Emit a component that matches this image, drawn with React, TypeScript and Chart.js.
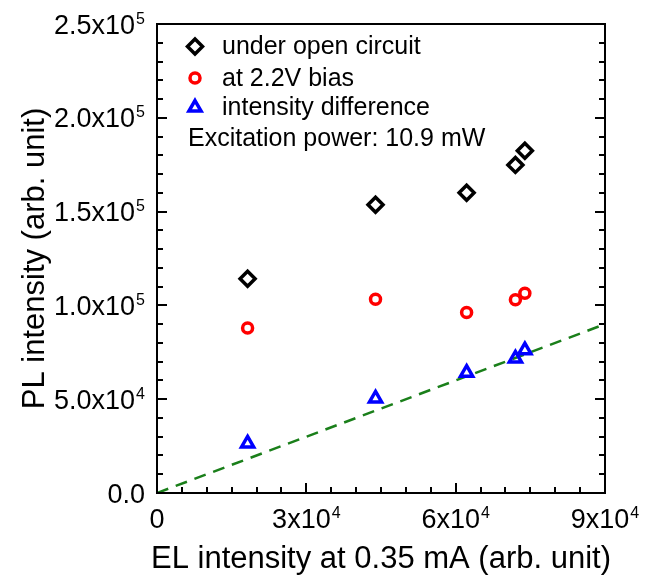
import React, { useEffect, useRef } from 'react';
import { Chart, registerables } from 'chart.js';

Chart.register(...registerables);

// ---- data ----
const elIntensity = [18200, 43900, 62200, 72000, 73900];
const plOpenCircuit = [114200, 153600, 160100, 174900, 182400];
const plBias = [87900, 103300, 96200, 103000, 106500];
const plDifference = [26400, 50400, 64100, 71700, 76100];
const fitX = [0, 90000];
const fitY = [0, 90000];

const seriesLabels = ['under open circuit', 'at 2.2V bias', 'intensity difference'];
const noteText = 'Excitation power: 10.9 mW';
const xTitle = 'EL intensity at 0.35 mA (arb. unit)';
const yTitle = 'PL intensity (arb. unit)';

const xTickValues = [0, 30000, 60000, 90000];
const xTickMain = ['0', '3x10', '6x10', '9x10'];
const xTickExp = ['', '4', '4', '4'];
const yTickValues = [0, 50000, 100000, 150000, 200000, 250000];
const yTickMain = ['0.0', '5.0x10', '1.0x10', '1.5x10', '2.0x10', '2.5x10'];
const yTickExp = ['', '4', '5', '5', '5', '5'];

const X_MIN = 0, X_MAX = 90000, X_MINOR = 5000;
const Y_MIN = 0, Y_MAX = 250000, Y_MINOR = 10000;

const FONT = '"Liberation Sans", Arial, Helvetica, sans-serif';
const MARK_W = 3.5;

function shapePath(ctx: CanvasRenderingContext2D, kind: string, x: number, y: number, r: number) {
  ctx.beginPath();
  if (kind === 'diamond') {
    ctx.moveTo(x - r, y);
    ctx.lineTo(x, y - r);
    ctx.lineTo(x + r, y);
    ctx.lineTo(x, y + r);
    ctx.closePath();
  } else if (kind === 'circle') {
    ctx.arc(x, y, r, 0, Math.PI * 2);
    ctx.closePath();
  } else {
    const s = Math.sin((2 * Math.PI) / 3) * r;
    ctx.moveTo(x, y - r);
    ctx.lineTo(x + s, y + r / 2);
    ctx.lineTo(x - s, y + r / 2);
    ctx.closePath();
  }
}

const framePlugin = {
  id: 'frameAndText',
  afterDatasetsDraw(chart: any) {
    const { ctx, chartArea: a, scales } = chart;
    const xs = scales.x;
    const ys = scales.y;
    ctx.save();

    // frame
    ctx.strokeStyle = '#000';
    ctx.lineWidth = 2;
    ctx.strokeRect(a.left, a.top, a.right - a.left, a.bottom - a.top);

    // ticks (inward)
    ctx.lineWidth = 2;
    ctx.beginPath();
    for (let v = Y_MIN; v <= Y_MAX + 1; v += Y_MINOR) {
      const py = Math.round(ys.getPixelForValue(v));
      const major = yTickValues.includes(v);
      const len = major ? 10 : 6;
      ctx.moveTo(a.left, py);
      ctx.lineTo(a.left + len, py);
      ctx.moveTo(a.right, py);
      ctx.lineTo(a.right - len, py);
    }
    for (let v = X_MIN; v <= X_MAX + 1; v += X_MINOR) {
      const px = Math.round(xs.getPixelForValue(v));
      const major = xTickValues.includes(v);
      const len = major ? 10 : 6;
      ctx.moveTo(px, a.bottom);
      ctx.lineTo(px, a.bottom - len);
    }
    ctx.stroke();

    // tick labels
    ctx.fillStyle = '#000';
    ctx.textBaseline = 'alphabetic';
    const mainFont = `27px ${FONT}`;
    const expFont = `16px ${FONT}`;
    yTickValues.forEach((v, i) => {
      const py = ys.getPixelForValue(v);
      const right = a.left - 12;
      ctx.font = expFont;
      const ew = yTickExp[i] ? ctx.measureText(yTickExp[i]).width : 0;
      if (yTickExp[i]) {
        ctx.textAlign = 'left';
        ctx.fillText(yTickExp[i], right - ew, py - 0.5);
      }
      ctx.font = mainFont;
      ctx.textAlign = 'right';
      ctx.fillText(yTickMain[i], right - (ew ? ew + 1 : 0), py + 9.5);
    });
    xTickValues.forEach((v, i) => {
      const px = xs.getPixelForValue(v);
      ctx.font = mainFont;
      const mw = ctx.measureText(xTickMain[i]).width;
      ctx.font = expFont;
      const ew = xTickExp[i] ? ctx.measureText(xTickExp[i]).width + 1 : 0;
      const start = px - (mw + ew) / 2;
      ctx.textAlign = 'left';
      ctx.font = mainFont;
      ctx.fillText(xTickMain[i], start, a.bottom + 35);
      if (xTickExp[i]) {
        ctx.font = expFont;
        ctx.fillText(xTickExp[i], start + mw + 1, a.bottom + 25);
      }
    });

    // axis titles
    ctx.font = `31px ${FONT}`;
    ctx.textAlign = 'center';
    ctx.fillText(xTitle, (a.left + a.right) / 2, 568);
    ctx.save();
    ctx.translate(44, (a.top + a.bottom) / 2);
    ctx.rotate(-Math.PI / 2);
    ctx.fillText(yTitle, 0, 0);
    ctx.restore();

    // legend
    const markerX = 195;
    const rows = [
      { kind: 'diamond', color: '#000000', r: 7.5, my: 46.5, by: 54 },
      { kind: 'circle', color: '#FF0000', r: 5, my: 78, by: 85.5 },
      { kind: 'triangle', color: '#0000FF', r: 7, my: 107.5, by: 115 },
    ];
    ctx.lineWidth = MARK_W;
    rows.forEach((row, i) => {
      ctx.strokeStyle = row.color;
      shapePath(ctx, row.kind, markerX, row.my, row.r);
      ctx.stroke();
      ctx.fillStyle = '#000';
      ctx.font = `25px ${FONT}`;
      ctx.textAlign = 'left';
      ctx.fillText(seriesLabels[i], 222, row.by);
    });
    ctx.fillText(noteText, 188, 146);

    ctx.restore();
  },
};

export default function App() {
  const canvasRef = useRef<HTMLCanvasElement | null>(null);

  useEffect(() => {
    const canvas = canvasRef.current;
    if (!canvas) return;
    const pts = (ys: number[]) => elIntensity.map((x, i) => ({ x, y: ys[i] }));
    const chart = new Chart(canvas, {
      type: 'scatter',
      data: {
        datasets: [
          {
            label: seriesLabels[0],
            data: pts(plOpenCircuit),
            pointStyle: 'rectRot',
            pointRadius: 7.5,
            borderColor: '#000000',
            backgroundColor: 'rgba(0,0,0,0)',
            borderWidth: MARK_W,
            pointBorderWidth: MARK_W,
          },
          {
            label: seriesLabels[1],
            data: pts(plBias),
            pointStyle: 'circle',
            pointRadius: 5,
            borderColor: '#FF0000',
            backgroundColor: 'rgba(0,0,0,0)',
            borderWidth: MARK_W,
            pointBorderWidth: MARK_W,
          },
          {
            label: seriesLabels[2],
            data: pts(plDifference),
            pointStyle: 'triangle',
            pointRadius: 7,
            borderColor: '#0000FF',
            backgroundColor: 'rgba(0,0,0,0)',
            borderWidth: MARK_W,
            pointBorderWidth: MARK_W,
          },
          {
            label: 'linear fit',
            data: fitX.map((x, i) => ({ x, y: fitY[i] })),
            showLine: true,
            pointRadius: 0,
            borderColor: '#1A7F1A',
            borderWidth: 2.5,
            borderDash: [12, 8],
            backgroundColor: 'rgba(0,0,0,0)',
          },
        ],
      },
      options: {
        responsive: false,
        animation: false,
        layout: { padding: { left: 157, top: 24, right: 47, bottom: 84 } },
        plugins: {
          legend: { display: false },
          tooltip: { enabled: false },
        },
        scales: {
          x: { type: 'linear', min: X_MIN, max: X_MAX, display: false },
          y: { type: 'linear', min: Y_MIN, max: Y_MAX, display: false },
        },
      },
      plugins: [framePlugin],
    } as any);
    return () => chart.destroy();
  }, []);

  return (
    <div style={{ position: 'absolute', left: 0, top: 0, width: 652, height: 577, background: '#fff' }}>
      <canvas ref={canvasRef} width={652} height={577} style={{ display: 'block', width: 652, height: 577 }} />
    </div>
  );
}
